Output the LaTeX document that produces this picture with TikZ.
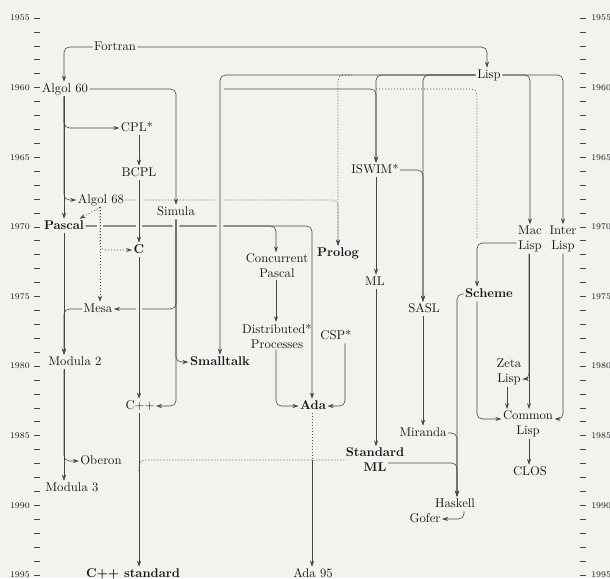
\documentclass[tikz,border=0pt]{standalone}
\usetikzlibrary{arrows.meta}
\definecolor{bg}{RGB}{242,242,239}
\definecolor{ink}{RGB}{25,25,25}
\definecolor{lnc}{RGB}{70,70,70}
\begin{document}
\begin{tikzpicture}[x=0.75pt,y=-0.75pt,
  lab/.style={inner sep=1pt, text height=6.5pt, text depth=2pt, font=\fontsize{9.5}{11.3}\selectfont, text=ink},
  blab/.style={lab, font=\fontsize{9.5}{11.3}\selectfont\bfseries},
  mlab/.style={inner sep=1pt, font=\fontsize{9.5}{11.3}\selectfont, text=ink, align=center},
  bmlab/.style={mlab, font=\fontsize{9.5}{11.3}\selectfont\bfseries},
  ln/.style={draw=lnc, line width=0.45pt, rounded corners=4pt},
  arr/.style={ln, -{Stealth[length=4.5pt,width=3pt]}},
  dln/.style={ln, dash pattern=on 0.75pt off 1.5pt},
  darr/.style={dln, -{Stealth[length=4.5pt,width=3pt]}},
  brk/.style={preaction={draw=bg, line width=5pt, -, solid}},
  yrlab/.style={inner sep=0pt, font=\fontsize{6.5}{7}\selectfont, text=ink},
  yrtick/.style={draw=lnc, line width=0.5pt},
]
\fill[bg] (0,0) rectangle (610,578);
\useasboundingbox (0,0) rectangle (610,578);

% year axes
\foreach \i in {0,...,40}{
  \pgfmathsetmacro{\yy}{18+\i*13.925}
  \draw[yrtick] (34,\yy) -- (40,\yy);
  \draw[yrtick] (580,\yy) -- (586,\yy);
}
\foreach \i in {0,5,...,40}{
  \pgfmathsetmacro{\yy}{18+\i*13.925}
  \pgfmathtruncatemacro{\yv}{1955+\i}
  \node[yrlab, anchor=east] (yl\yv) at (30,\yy) {\yv};
  \node[yrlab, anchor=west] (yr\yv) at (591,\yy) {\yv};
}

% nodes
\node[lab] (fortran) at (115,47) {Fortran};
\node[lab] (algol60) at (65,89) {Algol 60};
\node[lab] (lisp) at (489,75) {Lisp};
\node[lab] (cpl) at (137,128) {CPL*};
\node[lab] (bcpl) at (139,173) {BCPL};
\node[lab] (algol68) at (101,200) {Algol 68};
\node[lab] (iswim) at (375,170) {ISWIM*};
\node[lab] (simula) at (176,212) {Simula};
\node[blab] (pascal) at (64,226) {Pascal};
\node[mlab] (maclisp) at (530,239) {Mac\\Lisp};
\node[mlab] (interlisp) at (563,239) {Inter\\Lisp};
\node[blab] (c) at (139,250) {C};
\node[blab] (prolog) at (338,253) {Prolog};
\node[mlab] (concpascal) at (277,266) {Concurrent\\Pascal};
\node[lab] (ml) at (375,282) {ML};
\node[blab] (scheme) at (489,294) {Scheme};
\node[lab] (sasl) at (424,309) {SASL};
\node[lab] (mesa) at (98,309) {Mesa};
\node[mlab] (distproc) at (277,336) {Distributed*\\Processes};
\node[lab] (csp) at (336,336) {CSP*};
\node[lab] (modula2) at (75,362) {Modula 2};
\node[blab] (smalltalk) at (220,362) {Smalltalk};
\node[mlab] (zetalisp) at (509,372) {Zeta\\Lisp};
\node[lab] (cpp) at (140,406) {C++};
\node[blab] (ada) at (313,406) {Ada};
\node[mlab] (commonlisp) at (528,424) {Common\\Lisp};
\node[lab] (miranda) at (423,433) {Miranda};
\node[bmlab] (standardml) at (375,460) {Standard\\ML};
\node[lab] (oberon) at (101,461) {Oberon};
\node[lab] (clos) at (530,472) {CLOS};
\node[lab] (modula3) at (72,488) {Modula 3};
\node[lab] (haskell) at (455,504) {Haskell};
\node[lab] (gofer) at (425,519) {Gofer};
\node[blab] (cppstd) at (133,574) {C++ standard};
\node[lab] (ada95) at (313,574) {Ada 95};

% junction points for connectors that merge into other lines
\coordinate (a60b) at (224,89);
\coordinate (a60c) at (376,89);
\coordinate (schemejoin) at (477,239);
\coordinate (lispdot) at (352,75);
\coordinate (cppjoin) at (139,472);
\coordinate (adajoin) at (312,460);

% Fortran
\draw[arr] (fortran.west) -| (algol60.north -| 64,0);
\draw[arr] (fortran.east) -| (lisp.north -| 487,0);
% Pascal horizontal (crossed later)
\draw[arr] (pascal.east) -| (concpascal.north -| 276,0);
\draw[arr] (pascal.east) -| (ada.north -| 312,0);
% Algol 60
\draw[arr] (algol60.east) -| (simula.north -| 176,0);
\draw[arr] (algol60.south -| 64,0) -- (pascal.north -| 64,0);
\draw[arr] (algol60.south -| 64,0) |- (cpl.west);
\draw[arr] (algol60.south -| 64,0) |- (algol68.west);
\draw[arr] (a60b) -| (iswim.north -| 376,0);
\draw[dln] (a60c) -| (schemejoin);
% Algol 68 (dotted)
\draw[darr, brk] (algol68.south -| 100,0) -- (mesa.north -| 100,0);
\draw[darr] (algol68.south -| 100,0) |- (c.west);
\draw[darr] (algol68.south -| 100,0) -- ([shift={(-6,0)}]pascal.north east);
\draw[darr] (algol68.east) -| (prolog.north -| 338,0);
% CPL, BCPL, C
\draw[arr] (cpl.south -| 139,0) -- (bcpl.north -| 139,0);
\draw[arr, brk] (bcpl.south -| 139,0) -- (c.north -| 139,0);
% Simula
\draw[arr, brk] (simula.south -| 176,0) |- (cpp.east);
\draw[arr] (simula.south -| 176,0) |- (mesa.east);
\draw[arr] (simula.south -| 176,0) |- (smalltalk.west);
\draw[arr, brk] (c.south -| 139,0) -- (cpp.north -| 139,0);
\draw[arr] (cpp.south -| 139,0) -- (cppstd.north -| 139,0);
% Lisp
\draw[arr, brk] (lisp.west) -| (smalltalk.north -| 220,0);
\draw[arr] (lisp.west) -| (iswim.north -| 376,0);
\draw[arr] (lisp.west) -| (sasl.north -| 423,0);
\draw[darr] (lispdot) -| (prolog.north -| 338,0);
\draw[arr] (lisp.east) -| (maclisp.north -| 530,0);
\draw[arr] (lisp.east) -| (interlisp.north -| 563,0);
% Pascal family
\draw[arr] (concpascal.south -| 276,0) -- (distproc.north -| 276,0);
\draw[arr] (distproc.south -| 276,0) |- (ada.west);
\draw[arr] (csp.south -| 345,0) |- (ada.east);
\draw[dln] (ada.south -| 312,0) -- (adajoin);
\draw[arr] (adajoin) -- (ada95.north -| 312,0);
\draw[arr] (mesa.west) -| (modula2.north -| 64,0);
\draw[arr] (pascal.south -| 64,0) -- (modula2.north -| 64,0);
\draw[arr] (modula2.south -| 64,0) -- (modula3.north -| 64,0);
\draw[arr] (modula2.south -| 64,0) |- (oberon.west);
% ISWIM family
\draw[arr] (iswim.south -| 376,0) -- (ml.north -| 376,0);
\draw[arr] (iswim.east) -| (sasl.north -| 423,0);
\draw[arr] (ml.south -| 376,0) -- (standardml.north -| 376,0);
\draw[arr] (sasl.south -| 423,0) -- (miranda.north -| 423,0);
\draw[arr] (miranda.east) -| (haskell.north -| 457,0);
\draw[arr] ([shift={(13,3)}]standardml.center) -| (haskell.north -| 457,0);
\draw[arr] (haskell.south -| 464,0) |- (gofer.east);
\draw[dln] (standardml.west) -| (cppjoin);
% Lisp family
\draw[arr] ([shift={(0,4)}]maclisp.west) -| (scheme.north -| 477,0);
\draw[arr] (maclisp.south -| 529,0) -- (commonlisp.north -| 529,0);
\draw[arr] (maclisp.south -| 529,0) |- ([shift={(0,7)}]zetalisp.east);
\draw[arr] (zetalisp.south -| 507,0) -- (commonlisp.north -| 507,0);
\draw[arr] (interlisp.south -| 563,0) |- ([shift={(0,-5)}]commonlisp.east);
\draw[arr] (commonlisp.south -| 529,0) -- (clos.north -| 529,0);
\draw[arr] (scheme.south -| 477,0) |- ([shift={(0,-5)}]commonlisp.west);
\draw[arr] (scheme.west) -| (haskell.north -| 457,0);
\end{tikzpicture}
\end{document}
